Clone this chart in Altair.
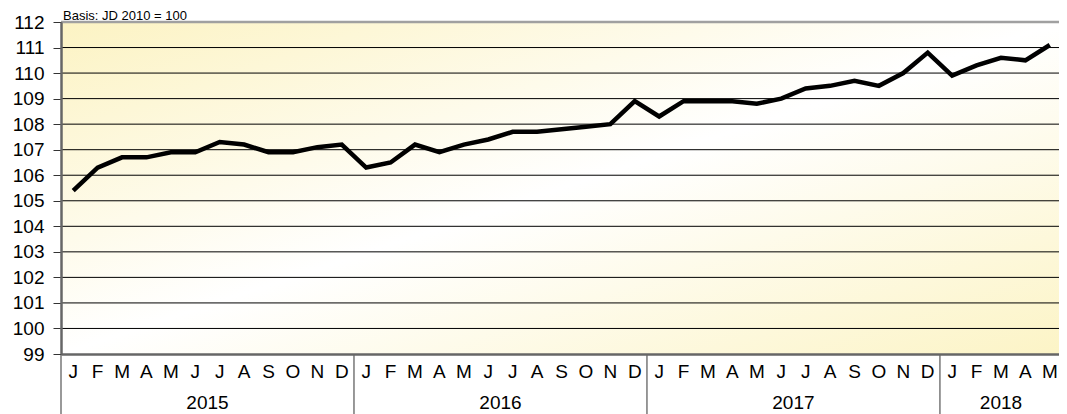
import altair as alt
import pandas as pd

# ---- data -------------------------------------------------------------
MONTHS = ["J", "F", "M", "A", "M", "J", "J", "A", "S", "O", "N", "D"]
YEARS = ["2015", "2016", "2017", "2018"]
MONTHS_PER_YEAR = [12, 12, 12, 5]
VALUES_2015 = [105.4, 106.3, 106.7, 106.7, 106.9, 106.9, 107.3, 107.2, 106.9, 106.9, 107.1, 107.2]
VALUES_2016 = [106.3, 106.5, 107.2, 106.9, 107.2, 107.4, 107.7, 107.7, 107.8, 107.9, 108.0, 108.9]
VALUES_2017 = [108.3, 108.9, 108.9, 108.9, 108.8, 109.0, 109.4, 109.5, 109.7, 109.5, 110.0, 110.8]
VALUES_2018 = [109.9, 110.3, 110.6, 110.5, 111.1]
Y_TICKS = list(range(99, 113))
TITLE = "Basis: JD 2010 = 100"

VALUES = VALUES_2015 + VALUES_2016 + VALUES_2017 + VALUES_2018

rows = []
i = 0
for yr, n in zip(YEARS, MONTHS_PER_YEAR):
    for m in range(n):
        rows.append({"idx": i, "month": MONTHS[m], "year": yr, "value": VALUES[i]})
        i += 1
df = pd.DataFrame(rows)

year_df = df.groupby("year").agg(center=("idx", "mean"), start=("idx", "min")).reset_index()
year_df["start"] = year_df["start"] - 0.5

grid_df = pd.DataFrame({"value": Y_TICKS[1:-1]})
top_df = pd.DataFrame({"value": [Y_TICKS[-1]]})

# ---- layout -----------------------------------------------------------
PAD_L = 53
PAD_T = 14
W = 998          # svg total width 1051 = body width
H = 332
XR = 1001        # x range runs slightly past the visible area (cut at right edge)
FONT = "Liberation Sans"

xscale = alt.Scale(domain=[-0.5, len(VALUES) - 0.5], range=[0, XR], nice=False, zero=False)
yscale = alt.Scale(domain=[Y_TICKS[0], Y_TICKS[-1]], nice=False, zero=False)

y_axis = alt.Axis(
    values=Y_TICKS, title=None, grid=False, domainColor="#666666", domainWidth=2.5,
    tickColor="#333333", tickSize=8, tickWidth=1, labelFont=FONT, labelFontSize=19,
    labelColor="black", labelPadding=9, labelFlush=False, labelOverlap=False, zindex=1,
)
x_axis = alt.Axis(
    title=None, labels=False, ticks=False, grid=False, domainColor="#666666",
    domainWidth=2.5, zindex=1,
)


def X(field):
    return alt.X(field, scale=xscale, axis=x_axis, title=None)


def Y(field):
    return alt.Y(field, scale=yscale, axis=y_axis, title=None)


grad = alt.Gradient(
    gradient="linear",
    stops=[
        alt.GradientStop(color="#FCF3C3", offset=0),
        alt.GradientStop(color="#FFFFFF", offset=0.5),
        alt.GradientStop(color="#FCF4C6", offset=1),
    ],
    x1=0, y1=0, x2=1, y2=1,
)

bg = alt.Chart(alt.Data(values=[{}])).mark_rect(fill=grad).encode(
    x=alt.value(0), x2=alt.value(XR), y=alt.value(0), y2=alt.value(H)
)

grid = alt.Chart(grid_df).mark_rule(color="black", strokeWidth=1).encode(
    y=Y("value:Q"), x=alt.value(0), x2=alt.value(XR)
)

top = alt.Chart(top_df).mark_rule(color="#A0A0A0", strokeWidth=2.5).encode(
    y=Y("value:Q"), x=alt.value(0), x2=alt.value(XR)
)

line = alt.Chart(df).mark_line(color="black", strokeWidth=4.5, strokeJoin="miter").encode(
    x=X("idx:Q"),
    y=Y("value:Q"),
)

month_txt = alt.Chart(df).mark_text(font=FONT, fontSize=19, baseline="alphabetic", color="black").encode(
    x=X("idx:Q"), y=alt.value(H + 24), text="month:N"
)

year_txt = alt.Chart(year_df).mark_text(font=FONT, fontSize=19, baseline="alphabetic", color="black").encode(
    x=X("center:Q"), y=alt.value(H + 55), text="year:N"
)

seps = alt.Chart(year_df).mark_rule(color="#777777", strokeWidth=1.5).encode(
    x=X("start:Q"), y=alt.value(H), y2=alt.value(H + 62)
)

title_txt = alt.Chart(alt.Data(values=[{"t": TITLE}])).mark_text(
    font=FONT, fontSize=13, align="left", baseline="alphabetic", color="black"
).encode(x=alt.value(2), y=alt.value(-2), text="t:N")

chart = alt.layer(bg, grid, top, seps, line, month_txt, year_txt, title_txt).properties(
    width=W,
    height=H,
    autosize=alt.AutoSizeParams(type="none"),
    padding={"left": PAD_L, "top": PAD_T, "right": 0, "bottom": 60},
).configure_view(stroke=None)

chart.save("out.html", embed_options={"renderer": "svg", "actions": False})
